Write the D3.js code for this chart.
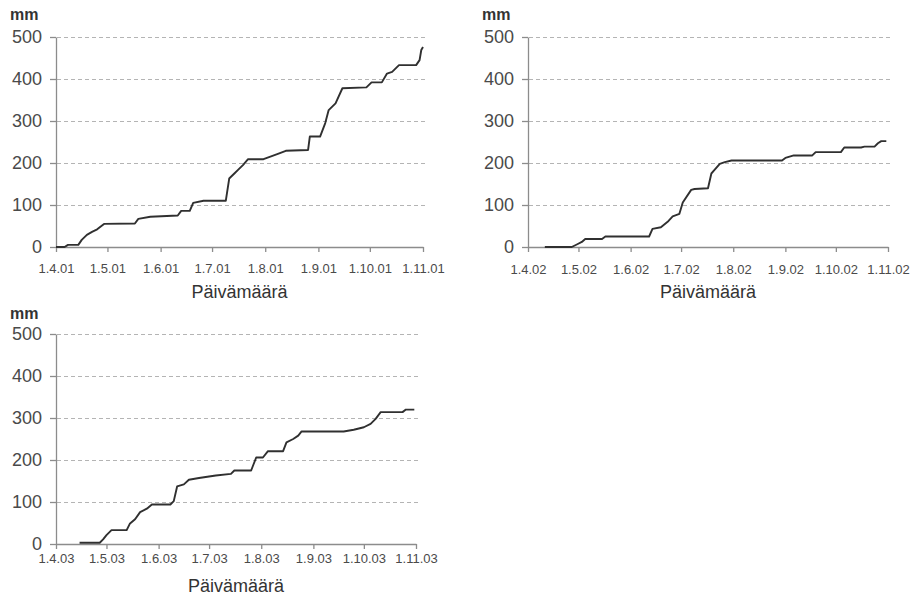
<!DOCTYPE html>
<html>
<head>
<meta charset="utf-8">
<script src="https://cdn.jsdelivr.net/npm/d3@7"></script>
<style>
  body { margin: 0; background: #fff; }
  svg { display: block; font-family: "Liberation Sans", Arial, sans-serif; }
  .grid line { stroke: #b4b4b4; stroke-dasharray: 4,3; }
  .grid path { display: none; }
  .axis path, .axis line { stroke: #8c8c8c; stroke-width: 1.3; }
  .rain { fill: none; stroke: #303030; stroke-width: 1.9; stroke-linejoin: round; }
</style>
</head>
<body>
<script>
// cumulative rainfall, days counted from 1.4. of each year
var rain2001Days = [0, 5, 7, 13, 15, 18, 21, 24, 28, 46, 48, 55, 71, 73, 78, 80, 86, 99, 101, 104, 106, 109, 112, 121, 125, 129, 134, 147, 148, 154, 157, 159, 163, 167, 181, 184, 190, 193, 196, 200, 210, 212, 213, 214];
var rain2001Mm   = [0, 0, 5, 5, 17, 29, 36, 42, 55, 56, 67, 72, 75, 86, 86, 105, 110, 110, 163, 175, 183, 195, 209, 209, 215, 221, 229, 231, 263, 263, 295, 326, 342, 378, 380, 392, 392, 413, 417, 433, 433, 445, 469, 476];

var rain2002Days = [10, 26, 29, 32, 34, 44, 46, 72, 74, 79, 83, 86, 90, 92, 97, 99, 107, 109, 111, 114, 117, 121, 151, 153, 158, 169, 171, 186, 188, 198, 200, 206, 208, 210, 213];
var rain2002Mm   = [0, 0, 6, 12, 19, 19, 25, 25, 43, 47, 60, 73, 79, 106, 136, 138, 140, 175, 184, 198, 202, 206, 206, 212, 218, 218, 226, 226, 237, 237, 239, 239, 247, 252, 252];

var rain2003Days = [14, 26, 28, 30, 33, 42, 44, 47, 50, 54, 57, 68, 70, 72, 76, 79, 85, 95, 104, 106, 116, 119, 123, 126, 135, 137, 141, 144, 146, 171, 177, 183, 187, 190, 193, 206, 208, 213];
var rain2003Mm   = [3, 3, 11, 21, 33, 33, 49, 59, 76, 84, 94, 94, 102, 137, 142, 153, 157, 163, 167, 175, 175, 206, 206, 221, 221, 242, 250, 258, 268, 268, 272, 278, 286, 298, 314, 314, 320, 320];

var years = [2001, 2002, 2003];
var yTicks = [0, 100, 200, 300, 400, 500];
var yLabel = "mm";
var xTitle = "Päivämäärä";

var panels = [
    { year: 2001, days: rain2001Days, mm: rain2001Mm, x0: 56, x1: 423, top: 37, bot: 247, lab: 12, title: 292, unitY: 14 },
    { year: 2002, days: rain2002Days, mm: rain2002Mm, x0: 528, x1: 888, top: 37, bot: 247, lab: 13, title: 292, unitY: 14 },
    { year: 2003, days: rain2003Days, mm: rain2003Mm, x0: 56, x1: 416, top: 334, bot: 544, lab: 5, title: 586, unitY: 313 }
];

var svg = d3.select("body").append("svg")
    .attr("width", 917)
    .attr("height", 595);

var fmt = d3.timeFormat("%-d.%-m.%y");

panels.forEach(function(p) {
    var start = new Date(p.year, 3, 1),
        end = new Date(p.year, 10, 1);

    var x = d3.scaleTime().domain([start, end]).range([p.x0, p.x1]);
    var y = d3.scaleLinear().domain([0, 500]).range([p.bot, p.top]);

    var g = svg.append("g");

    // dashed gridlines
    g.append("g")
        .attr("class", "grid")
        .attr("transform", "translate(" + (p.x1 + 2) + ",0)")
        .call(d3.axisLeft(y).tickValues(yTicks.slice(1)).tickSize(p.x1 - p.x0 + 2).tickFormat(""));

    // y axis
    var ya = g.append("g")
        .attr("class", "axis")
        .attr("transform", "translate(" + p.x0 + ",0)")
        .call(d3.axisLeft(y).tickValues(yTicks).tickSize(6).tickSizeOuter(0).tickPadding(8));
    ya.selectAll("text")
        .style("font-size", "18px")
        .style("fill", "#4a4a4a");

    // x axis
    var xa = g.append("g")
        .attr("class", "axis")
        .attr("transform", "translate(0," + p.bot + ")")
        .call(d3.axisBottom(x).ticks(d3.timeMonth.every(1)).tickSize(5).tickSizeOuter(0)
            .tickPadding(p.lab).tickFormat(fmt));
    xa.selectAll("text")
        .style("font-size", "13px")
        .style("fill", "#4a4a4a");

    // rainfall line
    var pts = p.days.map(function(d, i) {
        return { date: d3.timeDay.offset(start, d), mm: p.mm[i] };
    });
    var line = d3.line()
        .x(function(d) { return x(d.date); })
        .y(function(d) { return y(d.mm); });
    g.append("path")
        .datum(pts)
        .attr("class", "rain")
        .attr("d", line);

    // unit label
    g.append("text")
        .attr("x", p.x0 - 46)
        .attr("y", p.unitY)
        .attr("dy", ".35em")
        .style("font-size", "16px")
        .style("font-weight", "bold")
        .style("fill", "#333")
        .text(yLabel);

    // x title
    g.append("text")
        .attr("x", (p.x0 + p.x1) / 2)
        .attr("y", p.title)
        .attr("dy", ".35em")
        .attr("text-anchor", "middle")
        .style("font-size", "18px")
        .style("fill", "#333")
        .text(xTitle);
});
</script>
</body>
</html>
